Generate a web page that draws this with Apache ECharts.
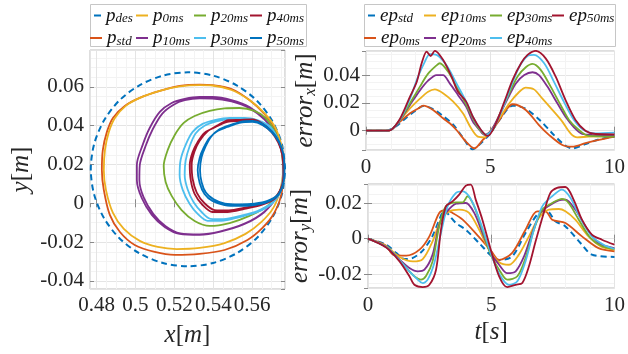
<!DOCTYPE html>
<html><head><meta charset="utf-8">
<script src="https://cdn.jsdelivr.net/npm/echarts/dist/echarts.min.js"></script>
<style>html,body{margin:0;padding:0;background:#fff}#c{width:628px;height:354px}</style>
</head><body><div id="c"></div>
<script>
// ---------- data ----------
const pDes = [[0.577,0.0175],[0.5753,0.0304],[0.5703,0.0425],[0.5624,0.0529],[0.552,0.0608],[0.5399,0.0658],[0.527,0.0675],[0.5141,0.0658],[0.502,0.0608],[0.4916,0.0529],[0.4837,0.0425],[0.4787,0.0304],[0.477,0.0175],[0.4787,0.0046],[0.4837,-0.0075],[0.4916,-0.0179],[0.502,-0.0258],[0.5141,-0.0308],[0.527,-0.0325],[0.5399,-0.0308],[0.552,-0.0258],[0.5624,-0.0179],[0.5703,-0.0075],[0.5753,0.0046],[0.577,0.0175]];
const pStd = [[0.5761,0.0172],[0.5755,0.0275],[0.5720,0.0378],[0.5663,0.0460],[0.5586,0.0532],[0.5494,0.0589],[0.5396,0.0609],[0.5330,0.0612],[0.5227,0.0605],[0.5125,0.0579],[0.5022,0.0543],[0.4945,0.0502],[0.4884,0.0440],[0.4853,0.0368],[0.4832,0.0275],[0.4827,0.0172],[0.4837,0.0069],[0.4868,-0.0060],[0.4920,-0.0148],[0.4996,-0.0215],[0.5099,-0.0251],[0.5202,-0.0266],[0.5330,-0.0261],[0.5458,-0.0241],[0.5576,-0.0189],[0.5653,-0.0127],[0.5714,-0.0050],[0.5750,0.0043],[0.5761,0.0172]];
const p0 = [[0.5761,0.0172],[0.5755,0.0275],[0.5720,0.0388],[0.5663,0.0465],[0.5586,0.0532],[0.5494,0.0584],[0.5396,0.0607],[0.5330,0.0609],[0.5227,0.0602],[0.5125,0.0579],[0.5022,0.0543],[0.4950,0.0502],[0.4894,0.0440],[0.4863,0.0368],[0.4843,0.0275],[0.4837,0.0172],[0.4848,0.0069],[0.4884,-0.0050],[0.4940,-0.0132],[0.5022,-0.0194],[0.5114,-0.0225],[0.5212,-0.0236],[0.5330,-0.0230],[0.5458,-0.0205],[0.5566,-0.0158],[0.5648,-0.0096],[0.5709,-0.0024],[0.5745,0.0069],[0.5761,0.0172]];
const p10 = [[0.5761,0.0172],[0.5750,0.0275],[0.5714,0.0368],[0.5663,0.0435],[0.5586,0.0496],[0.5494,0.0532],[0.5396,0.0548],[0.5330,0.0548],[0.5253,0.0538],[0.5186,0.0517],[0.5125,0.0471],[0.5073,0.0388],[0.5037,0.0301],[0.5007,0.0198],[0.5007,0.0120],[0.5032,0.0027],[0.5084,-0.0060],[0.5150,-0.0122],[0.5227,-0.0158],[0.5330,-0.0163],[0.5432,-0.0148],[0.5561,-0.0107],[0.5663,-0.0045],[0.5730,0.0038],[0.5761,0.0120],[0.5761,0.0172]];
const p10b = [[0.5750,0.0275],[0.5714,0.0368],[0.5663,0.0432],[0.5586,0.0490],[0.5494,0.0525],[0.5396,0.0540],[0.5330,0.0541],[0.5253,0.0531],[0.5196,0.0508],[0.5138,0.0462],[0.5088,0.0380],[0.5052,0.0295],[0.5022,0.0196],[0.5020,0.0120],[0.5042,0.0030],[0.5092,-0.0055],[0.5155,-0.0118],[0.5230,-0.0155],[0.5330,-0.0160],[0.5432,-0.0146],[0.5561,-0.0105],[0.5663,-0.0043],[0.5730,0.0040],[0.5761,0.0120],[0.5761,0.0172]];
const p20 = [[0.5761,0.0172],[0.5750,0.0275],[0.5720,0.0363],[0.5668,0.0440],[0.5612,0.0476],[0.5535,0.0491],[0.5458,0.0489],[0.5381,0.0476],[0.5304,0.0450],[0.5248,0.0414],[0.5202,0.0352],[0.5166,0.0275],[0.5145,0.0192],[0.5155,0.0110],[0.5186,0.0038],[0.5237,-0.0035],[0.5304,-0.0091],[0.5381,-0.0117],[0.5484,-0.0102],[0.5586,-0.0065],[0.5679,-0.0014],[0.5740,0.0058],[0.5761,0.0120],[0.5761,0.0172]];
const p30 = [[0.5761,0.0172],[0.5755,0.0264],[0.5730,0.0337],[0.5689,0.0398],[0.5627,0.0429],[0.5561,0.0440],[0.5484,0.0440],[0.5407,0.0429],[0.5345,0.0409],[0.5294,0.0368],[0.5258,0.0301],[0.5232,0.0223],[0.5227,0.0146],[0.5243,0.0069],[0.5279,-0.0004],[0.5320,-0.0055],[0.5371,-0.0091],[0.5443,-0.0091],[0.5535,-0.0071],[0.5627,-0.0045],[0.5699,-0.0004],[0.5745,0.0058],[0.5761,0.0172]];
const p30b = [[0.5755,0.0262],[0.5730,0.0333],[0.5689,0.0392],[0.5627,0.0422],[0.5561,0.0432],[0.5484,0.0433],[0.5412,0.0421],[0.5355,0.0400],[0.5309,0.0360],[0.5279,0.0295],[0.5258,0.0220],[0.5253,0.0146],[0.5268,0.0072],[0.5299,0.0005],[0.5340,-0.0045],[0.5386,-0.0080],[0.5453,-0.0082],[0.5540,-0.0065],[0.5627,-0.0040],[0.5699,0.0000],[0.5745,0.0060],[0.5761,0.0172]];
const p40 = [[0.5761,0.0172],[0.5755,0.0249],[0.5735,0.0311],[0.5699,0.0368],[0.5648,0.0409],[0.5602,0.0429],[0.5535,0.0424],[0.5473,0.0419],[0.5412,0.0393],[0.5355,0.0363],[0.5320,0.0316],[0.5294,0.0264],[0.5279,0.0198],[0.5284,0.0120],[0.5304,0.0048],[0.5345,-0.0009],[0.5396,-0.0045],[0.5473,-0.0045],[0.5561,-0.0029],[0.5648,-0.0009],[0.5720,0.0027],[0.5755,0.0094],[0.5761,0.0172]];
const p40b = [[0.5755,0.0252],[0.5735,0.0318],[0.5699,0.0372],[0.5648,0.0414],[0.5602,0.0432],[0.5540,0.0430],[0.5478,0.0428],[0.5420,0.0400],[0.5368,0.0368],[0.5330,0.0322],[0.5304,0.0268],[0.5289,0.0200],[0.5294,0.0125],[0.5315,0.0055],[0.5355,0.0000],[0.5407,-0.0035],[0.5480,-0.0037],[0.5566,-0.0022],[0.5650,-0.0003],[0.5720,0.0032],[0.5755,0.0098],[0.5761,0.0172]];
const p50 = [[0.5766,0.0172],[0.5761,0.0249],[0.5740,0.0311],[0.5704,0.0363],[0.5653,0.0404],[0.5602,0.0419],[0.5535,0.0414],[0.5473,0.0393],[0.5422,0.0373],[0.5381,0.0337],[0.5350,0.0285],[0.5330,0.0234],[0.5320,0.0172],[0.5330,0.0105],[0.5355,0.0048],[0.5396,0.0012],[0.5458,-0.0009],[0.5535,-0.0014],[0.5612,-0.0009],[0.5679,0.0007],[0.5735,0.0043],[0.5761,0.0105],[0.5766,0.0172]];
const p50b = [[0.5761,0.0252],[0.5740,0.0315],[0.5704,0.0368],[0.5653,0.0409],[0.5602,0.0424],[0.5540,0.0420],[0.5478,0.0400],[0.5430,0.0380],[0.5390,0.0345],[0.5360,0.0292],[0.5340,0.0238],[0.5332,0.0172],[0.5340,0.0108],[0.5362,0.0055],[0.5402,0.0020],[0.5460,-0.0002],[0.5535,-0.0006],[0.5612,-0.0002],[0.5679,0.0012],[0.5735,0.0047],[0.5761,0.0108],[0.5766,0.0172]];

const exStd = [[0,0],[0.8,0],[1.2,0.003],[1.6,0.009],[2,0.0145],[2.3,0.0178],[2.7,0.0155],[3.1,0.0105],[3.5,0.0045],[3.9,-0.005],[4.3,-0.0134],[4.6,-0.0095],[5,-0.002],[5.4,0.0085],[5.9,0.018],[6.4,0.016],[7,0.0075],[7.5,-0.002],[8,-0.0105],[8.3,-0.0128],[8.8,-0.0098],[9.4,-0.0062],[10,-0.0043]];
const ex0 = [[0,0],[0.8,0],[1,0.0005],[1.37,0.0065],[1.77,0.0125],[2.1,0.016],[2.3,0.018],[2.7,0.0149],[3.1,0.0089],[3.37,0.0053],[3.64,0.0005],[4.03,-0.008],[4.36,-0.0127],[4.7,-0.0067],[5.03,-0.0007],[5.37,0.0077],[5.63,0.0149],[5.9,0.019],[6.43,0.0149],[6.96,0.004],[7.36,-0.003],[7.9,-0.0103],[8.3,-0.0115],[8.83,-0.009],[9.37,-0.0067],[10,-0.0043]];
const ex10 = [[0,0],[0.8,0],[1,0.0005],[1.37,0.0077],[1.77,0.016],[2.17,0.023],[2.5,0.028],[2.77,0.0297],[3.1,0.027],[3.5,0.021],[3.9,0.0125],[4.23,0.0017],[4.5,-0.0043],[4.77,-0.0048],[5.03,0.0005],[5.37,0.0089],[5.77,0.0197],[6.17,0.028],[6.43,0.031],[6.76,0.0297],[7.1,0.023],[7.5,0.0149],[7.9,0.0065],[8.23,-0.0019],[8.5,-0.0048],[8.96,-0.0043],[10,-0.0038]];
const ex20 = [[0,0],[0.8,0],[1,0.0005],[1.37,0.0077],[1.77,0.0185],[2.17,0.029],[2.5,0.036],[2.84,0.040],[3.1,0.040],[3.37,0.034],[3.7,0.0257],[4.03,0.0173],[4.3,0.0065],[4.57,0.0005],[4.77,-0.003],[5.03,0],[5.37,0.0113],[5.7,0.023],[6.03,0.034],[6.37,0.040],[6.7,0.042],[6.96,0.040],[7.3,0.0317],[7.7,0.0197],[8.03,0.010],[8.37,0.0024],[8.7,-0.0024],[9.1,-0.003],[10,-0.0038]];
const ex30 = [[0,0],[0.8,0],[1,0.0005],[1.37,0.0077],[1.77,0.0197],[2.17,0.0317],[2.5,0.041],[2.84,0.047],[2.97,0.0485],[3.3,0.0425],[3.64,0.0317],[3.97,0.0209],[4.23,0.0113],[4.5,0.0024],[4.83,-0.003],[5.1,0.0005],[5.43,0.0137],[5.77,0.027],[6.1,0.039],[6.43,0.0456],[6.7,0.048],[7.03,0.0437],[7.43,0.0317],[7.83,0.0185],[8.17,0.0077],[8.57,0.0005],[8.96,-0.0038],[10,-0.0043]];
const ex40 = [[0,0],[0.8,0],[1,0.0005],[1.37,0.008],[1.77,0.023],[2.1,0.039],[2.37,0.0497],[2.57,0.055],[2.84,0.0545],[3.24,0.047],[3.64,0.034],[4.03,0.0209],[4.3,0.010],[4.57,0.0017],[4.83,-0.003],[5.17,0.003],[5.5,0.016],[5.83,0.0317],[6.17,0.046],[6.5,0.0537],[6.76,0.0545],[7.17,0.0485],[7.56,0.0353],[7.96,0.0209],[8.37,0.0077],[8.76,0.0005],[9.24,-0.0019],[10,-0.0014]];
const ex50 = [[0,0],[0.8,0],[1,0.0005],[1.37,0.0086],[1.77,0.0245],[2.04,0.035],[2.24,0.0485],[2.44,0.0569],[2.6,0.0537],[2.77,0.0574],[3.1,0.051],[3.44,0.039],[3.7,0.028],[4.03,0.0209],[4.3,0.010],[4.63,0.0005],[4.9,-0.0038],[5.23,0.0053],[5.57,0.0209],[5.9,0.0365],[6.24,0.0485],[6.5,0.0545],[6.83,0.0574],[7.23,0.052],[7.63,0.039],[8.03,0.022],[8.43,0.0077],[8.83,0],[9.24,-0.0024],[10,-0.0026]];

const eyStd = [[0,0],[0.74,-0.0034],[1.14,-0.008],[1.48,-0.0115],[1.8,-0.011],[2.2,-0.007],[2.6,0.001],[2.9,0.011],[3.1,0.016],[3.3,0.013],[3.57,0.0088],[3.97,0.005],[4.5,-0.0024],[5.05,-0.0103],[5.32,-0.012],[5.85,-0.01],[6.39,0.0032],[6.93,0.0145],[7.27,0.0154],[7.6,0.0098],[8.0,0.007],[8.68,-0.0034],[9.08,-0.009],[10,-0.0103]];
const ey0 = [[0,0],[0.74,-0.004],[1.01,-0.009],[1.55,-0.0096],[2.09,-0.0062],[2.49,0.0013],[2.89,0.0145],[3.16,0.016],[3.43,0.0145],[3.84,0.0107],[4.5,0.001],[5.0,-0.007],[5.32,-0.012],[5.85,-0.008],[6.39,0.005],[6.86,0.0154],[7.2,0.0154],[7.47,0.0107],[8.01,0.0088],[8.68,0.0013],[9.35,-0.0053],[10,-0.0071]];
const ey10 = [[0,0],[0.74,-0.0043],[1.28,-0.0103],[1.82,-0.0128],[2.22,-0.0115],[2.62,-0.0015],[2.96,0.0107],[3.3,0.0154],[3.7,0.0164],[4.1,0.0145],[4.51,0.005],[4.91,-0.0062],[5.32,-0.0133],[5.72,-0.0147],[6.12,-0.009],[6.53,0.0013],[6.93,0.0117],[7.34,0.0164],[7.74,0.0167],[8.01,0.0154],[8.41,0.0107],[8.95,0.0013],[9.49,-0.0047],[10,-0.0062]];
const ey20 = [[0,0],[0.74,-0.0047],[1.28,-0.0118],[1.68,-0.0165],[2.02,-0.0184],[2.29,-0.0175],[2.62,-0.009],[2.89,0.0079],[3.16,0.0145],[3.57,0.0197],[3.97,0.0201],[4.31,0.0145],[4.64,0.0032],[4.98,-0.0081],[5.32,-0.0147],[5.65,-0.0194],[5.99,-0.0184],[6.33,-0.01],[6.66,0.0032],[7.0,0.0145],[7.34,0.0186],[7.74,0.0216],[8.01,0.022],[8.41,0.0164],[8.82,0.007],[9.35,-0.0024],[10,-0.0053]];
const ey30 = [[0,0],[0.74,-0.0047],[1.28,-0.0122],[1.68,-0.0184],[1.88,-0.0212],[2.15,-0.0231],[2.36,-0.0209],[2.62,-0.0128],[2.89,0.007],[3.16,0.0182],[3.57,0.0205],[3.84,0.0205],[4.04,0.0239],[4.31,0.0182],[4.64,0.005],[4.98,-0.009],[5.32,-0.0175],[5.65,-0.0231],[6.06,-0.0212],[6.39,-0.0109],[6.73,0.005],[7.07,0.0164],[7.47,0.0201],[7.87,0.0224],[8.14,0.0201],[8.55,0.0107],[9.02,0.0004],[9.49,-0.0043],[10,-0.0058]];
const ey40 = [[0,0],[0.74,-0.0047],[1.28,-0.0122],[1.68,-0.0184],[1.95,-0.0222],[2.22,-0.025],[2.42,-0.0231],[2.69,-0.0137],[2.96,0.0032],[3.23,0.0182],[3.57,0.0258],[3.84,0.0267],[4.1,0.0239],[4.37,0.0164],[4.71,0.0032],[5.05,-0.0109],[5.38,-0.0212],[5.72,-0.026],[6.06,-0.024],[6.39,-0.0128],[6.73,0.005],[7.07,0.0182],[7.47,0.0239],[7.87,0.0276],[8.21,0.023],[8.61,0.0117],[9.08,0.0013],[9.56,-0.0034],[10,-0.0058]];
const ey50 = [[0,0],[0.74,-0.005],[1.28,-0.0128],[1.68,-0.0212],[1.88,-0.026],[2.22,-0.0273],[2.49,-0.026],[2.76,-0.0175],[2.96,0.005],[3.16,0.0182],[3.43,0.021],[3.7,0.0248],[3.97,0.0299],[4.17,0.0305],[4.37,0.022],[4.64,0.0107],[4.98,-0.0062],[5.32,-0.0212],[5.65,-0.0273],[5.99,-0.026],[6.26,-0.025],[6.53,-0.0156],[6.8,-0.0015],[7.13,0.0145],[7.4,0.0258],[7.67,0.0286],[8.01,0.0291],[8.34,0.022],[8.68,0.0107],[9.08,0.0023],[9.49,-0.0006],[10,-0.0034]];

const leftNames = ['p_des','p_std','p_0ms','p_10ms','p_20ms','p_30ms','p_40ms','p_50ms'];
const rightNames = ['ep_std','ep_0ms','ep_10ms','ep_20ms','ep_30ms','ep_40ms','ep_50ms'];

// ---------- styling ----------
const C = {blue:'#0072BD', orange:'#D95319', yellow:'#EDB120', purple:'#7E2F8E', green:'#77AC30', cyan:'#4DBEEE', red:'#A2142F'};
const FONT = '"Liberation Serif", "DejaVu Serif", serif';
const TXT = '#262626';
const BOX = '#bdbdbd';

const chart = echarts.init(document.getElementById('c'), null, {renderer:'canvas'});

const rich = {
  m:{fontFamily:FONT, fontStyle:'italic', fontSize:19, lineHeight:20, color:'#111'},
  s:{fontFamily:FONT, fontStyle:'italic', fontSize:13, lineHeight:13, verticalAlign:'bottom', color:'#111'}
};
const nameRich = {
  m:{fontFamily:FONT, fontStyle:'italic', fontSize:25, lineHeight:28, color:TXT},
  r:{fontFamily:FONT, fontSize:25, lineHeight:28, color:TXT},
  s:{fontFamily:FONT, fontStyle:'italic', fontSize:17, lineHeight:17, verticalAlign:'bottom', color:TXT}
};

function mainAxis(gridIndex, position, min, max, splitNumber, minorSplit, extra) {
  return Object.assign({
    type:'value', gridIndex, position, min, max, splitNumber,
    axisLine:{show:false},
    axisTick:{show:true, inside:true, length:4, lineStyle:{color:'#8a8a8a'}},
    minorTick:{show:false, splitNumber:minorSplit},
    splitLine:{show:true, lineStyle:{color:'#e4e4e4', width:1}},
    minorSplitLine:{show:true, lineStyle:{color:'#f3f3f3', width:1}},
    axisLabel:{fontFamily:FONT, fontSize:21, color:TXT, margin:6, showMinLabel:false, showMaxLabel:false}
  }, extra || {});
}
function mirrorAxis(gridIndex, position, min, max, splitNumber) {
  return {type:'value', gridIndex, position, min, max, splitNumber,
    axisLine:{show:false}, axisTick:{show:true, inside:true, length:4, lineStyle:{color:'#8a8a8a'}},
    axisLabel:{show:false}, splitLine:{show:false}};
}
function line(name, data, xi, yi, color, dashed) {
  return {type:'line', name, data, xAxisIndex:xi, yAxisIndex:yi, symbol:'none', smooth:0.3,
    lineStyle:{color, width:dashed?2:1.8, type:dashed?[6,4]:'solid'}, itemStyle:{color},
    emphasis:{disabled:true}, animation:false, clip:true};
}
function sub(name) { const i = name.indexOf('_'); return '{m|' + name.slice(0,i) + '}{s|' + name.slice(i+1) + '}'; }

const tLabel = {fontFamily:FONT, fontSize:21, color:TXT, margin:7};
const xAxis = [
  mainAxis(0,'bottom',0.4766,0.5769,5,4,{name:'{m|x}{r|[}{m|m}{r|]}', nameLocation:'middle', nameGap:32, nameTextStyle:{rich:nameRich}}),
  mirrorAxis(0,'top',0.4766,0.5769,5),
  mainAxis(1,'bottom',0,10,2,5,{axisLabel:tLabel}),
  mirrorAxis(1,'top',0,10,2),
  mainAxis(2,'bottom',0,10,2,5,{axisLabel:tLabel, name:'{m|t}{r|[}{m|s}{r|]}', nameLocation:'middle', nameGap:30, nameTextStyle:{rich:nameRich}}),
  mirrorAxis(2,'top',0,10,2)
];
const yAxis = [
  mainAxis(0,'left',-0.0442,0.079,5,4,{name:'{m|y}{r|[}{m|m}{r|]}', nameLocation:'middle', nameGap:55, nameTextStyle:{rich:nameRich}}),
  mirrorAxis(0,'right',-0.0442,0.079,5),
  mainAxis(1,'left',-0.0139,0.0573,3,4,{name:'{m|error}{s|x}{r|[}{m|m}{r|]}', nameLocation:'middle', nameGap:44, nameTextStyle:{rich:nameRich}}),
  mirrorAxis(1,'right',-0.0139,0.0573,3),
  mainAxis(2,'left',-0.0278,0.0308,3,4,{name:'{m|error}{s|y}{r|[}{m|m}{r|]}', nameLocation:'middle', nameGap:44, nameTextStyle:{rich:nameRich}}),
  mirrorAxis(2,'right',-0.0278,0.0308,3)
];

const leftColors = [C.blue, C.orange, C.yellow, C.purple, C.green, C.cyan, C.red, C.blue];
const leftData = [pDes, pStd, p0, p10.concat(p10b), p20, p30.concat(p30b), p40.concat(p40b), p50.concat(p50b)];
const rightColors = [C.blue, C.orange, C.yellow, C.purple, C.green, C.cyan, C.red];
const exData = [exStd, ex0, ex10, ex20, ex30, ex40, ex50];
const eyData = [eyStd, ey0, ey10, ey20, ey30, ey40, ey50];

const series = [];
leftNames.forEach((n,i)=>series.push(line(n, leftData[i], 0, 0, leftColors[i], i===0)));
rightNames.forEach((n,i)=>series.push(line(n, exData[i], 2, 2, rightColors[i], i===0)));
rightNames.forEach((n,i)=>series.push(line(n, eyData[i], 4, 4, rightColors[i], i===0)));

// legends: one per entry, MATLAB column-major layout
const legend = [];
function addLeg(name, textLeft, rowCenter, dashed) {
  const w = dashed ? 7 : 12;
  legend.push({show:true, data:[{name, icon:'rect'}], left:textLeft - 5 - w, top:rowCenter-10, padding:0,
    itemWidth:w, itemHeight:2, selectedMode:false, orient:'horizontal', formatter:sub, textStyle:{rich}});
}
const lText = [107,153,211,267], rText = [381,441,507,569], rows = [16,38.5];
leftNames.forEach((n,i)=>addLeg(n, lText[Math.floor(i/2)] - (i===0?1:0), rows[i%2], i===0));
rightNames.forEach((n,i)=>addLeg(n, rText[Math.floor(i/2)] - (i===0?1:0), rows[i%2], i===0));

chart.setOption({
  animation:false,
  backgroundColor:'#ffffff',
  grid:[
    {left:90, top:50, width:195, height:239, show:true, borderColor:BOX, borderWidth:1, backgroundColor:'transparent'},
    {left:366, top:51, width:250, height:99, show:true, borderColor:BOX, borderWidth:1, backgroundColor:'transparent'},
    {left:368, top:184, width:248, height:104, show:true, borderColor:BOX, borderWidth:1, backgroundColor:'transparent'}
  ],
  xAxis, yAxis, series, legend,
  graphic:[
    {type:'rect', shape:{x:90.5, y:4.5, width:216, height:42}, style:{fill:'none', stroke:'#c6c6c6', lineWidth:1}, silent:true},
    {type:'rect', shape:{x:364.5, y:4.5, width:251, height:42}, style:{fill:'none', stroke:'#c6c6c6', lineWidth:1}, silent:true}
  ]
});
</script></body></html>
